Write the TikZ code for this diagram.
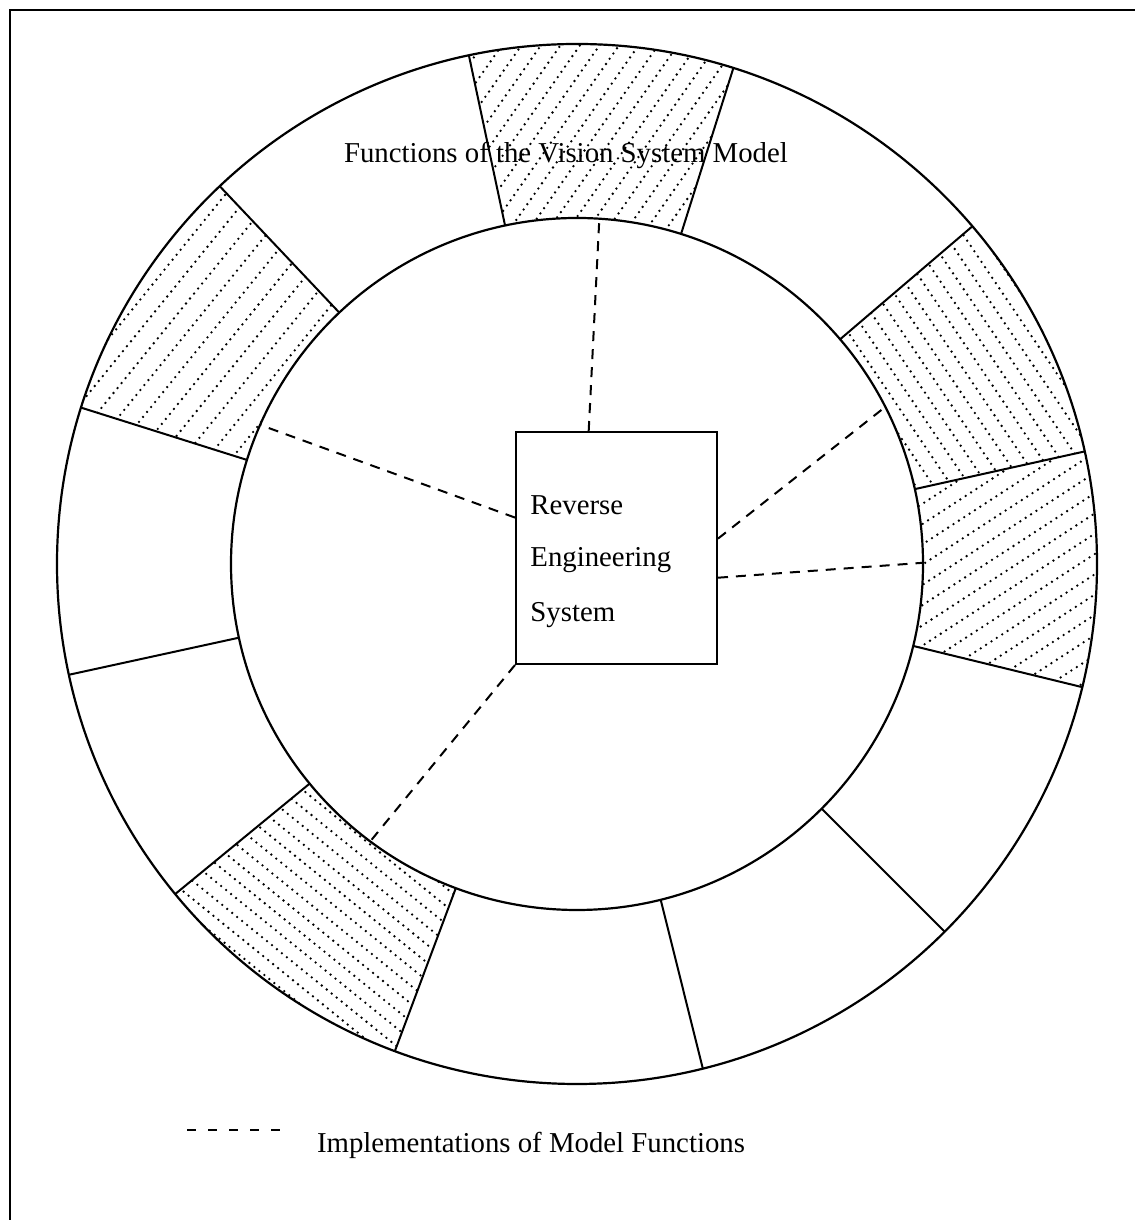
\documentclass[tikz,border=0pt]{standalone}
\usepackage{fontspec}
\setmainfont{Liberation Serif}
\usetikzlibrary{calc}
\newcommand\hatchseg[4]{% start angle, end angle, hatch direction, spacing
  \begin{scope}
    \clip ($(C)+(#1:\Ro)$) arc[start angle=#1, end angle=#2, radius=\Ro]
      -- ($(C)+(#2:\Ri)$) arc[start angle=#2, end angle=#1, radius=\Ri] -- cycle;
    \foreach \k in {-20,...,20} {
      \draw[dots] ($(C)+({(#1+#2)/2}:433)+({#3+90}:{\k*#4})+(#3:-260)$) -- ++(#3:520);
    }
  \end{scope}}
\begin{document}
\begin{tikzpicture}[x=0.5pt,y=0.5pt,
  ring/.style={line width=1.1pt},
  divider/.style={line width=1pt},
  link/.style={line width=1pt, dash pattern=on 5pt off 4pt},
  dots/.style={line width=1.3pt, line cap=round, dash pattern=on 0pt off 3.2pt},
  lbl/.style={font=\fontsize{14.4}{17}\selectfont, inner sep=0pt}]
\useasboundingbox (0,0) rectangle (1135,1220);
\coordinate (C) at (577,656);
\def\Ro{520}\def\Ri{346}

% frame
\draw[line width=1pt] (10,0) -- (10,1210) -- (1135,1210);

% hatched segments
\hatchseg{-13.7}{12.5}{33}{17}
\hatchseg{12.5}{40.5}{-56}{15}
\hatchseg{72.5}{102}{55}{16}
\hatchseg{133.4}{162.5}{51}{19}
\hatchseg{-140.6}{-110.5}{-39}{14}

% ring
\draw[ring] (C) circle[radius=\Ro];
\draw[ring] (C) circle[radius=\Ri];
\foreach \a in {102,72.5,40.5,12.5,-13.7,-45,-76,-110.5,-140.6,-167.7,162.5,133.4}
  \draw[divider] ($(C)+(\a:\Ri)$) -- ($(C)+(\a:\Ro)$);

% title
\node[lbl, anchor=base] (title) at (566,1057) {Functions of the Vision System Model};

% central box
\node[draw, line width=1pt, minimum width=100.5pt, minimum height=116pt, inner sep=0pt] (box) at (616.5,672) {};
\node[lbl, anchor=base west] (t1) at (530,705) {Reverse};
\node[lbl, anchor=base west] (t2) at (530,653) {Engineering};
\node[lbl, anchor=base west] (t3) at (530,598) {System};

% implementation links
\coordinate (eTop) at ($(C)+(86.3:\Ri)$);
\coordinate (eLeft) at ($(C)+(156.3:\Ri)$);
\coordinate (eRU) at ($(C)+(27:\Ri)$);
\coordinate (eR) at ($(C)+(0.2:\Ri)$);
\coordinate (eLL) at ($(C)+(-126.7:\Ri)$);
\draw[link] ($(box.north west)!0.363!(box.north east)$) -- (eTop);
\draw[link] ($(box.north west)!0.37!(box.south west)$) -- (eLeft);
\draw[link] ($(box.north east)!0.46!(box.south east)$) -- (eRU);
\draw[link] ($(box.north east)!0.627!(box.south east)$) -- (eR);
\draw[link] (box.south west) -- (eLL);

% legend
\coordinate (legA) at (187,90);
\coordinate (legB) at (281,90);
\draw[line width=1pt, dash pattern=on 4.5pt off 6pt] (legA) -- (legB);
\node[lbl, anchor=base] (legtxt) at (531,67) {Implementations of Model Functions};
\end{tikzpicture}
\end{document}
